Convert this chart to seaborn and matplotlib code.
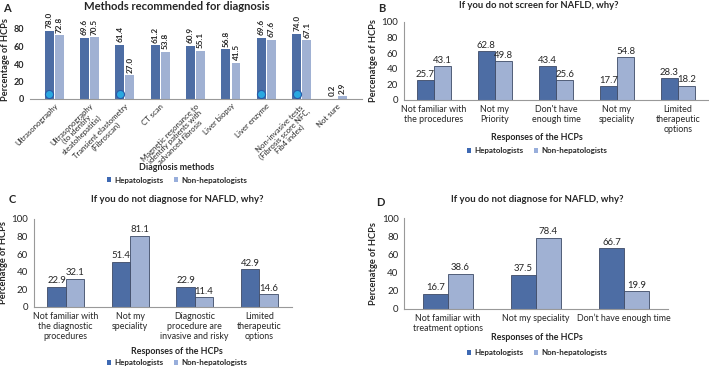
import matplotlib
matplotlib.use("Agg")
import matplotlib.pyplot as plt
import seaborn as sns
import pandas as pd
from matplotlib.patches import Patch

# Panel A: methods recommended for diagnosis
methods = ["Ultrasonography", "Ultrasonography\n(to identify\nsteatohepatitis)",
           "Transient elastometry\n(Fibroscan)", "CT scan",
           "Magnetic resonance to\nidentify patients with\nadvanced fibrosis",
           "Liver biopsy", "Liver enzyme",
           "Non-invasive tests\n(Fibrosis score NFC,\nFib4 index)", "Not sure"]
methods_hep = [78.0, 69.6, 61.4, 61.2, 60.9, 56.8, 69.6, 74.0, 0.2]
methods_nonhep = [72.8, 70.5, 27.0, 53.8, 55.1, 41.5, 67.6, 67.1, 2.9]
methods_marked = [True, False, True, False, False, False, True, True, False]

# Panel B: reasons for not screening
screen_reasons = ["Not familiar with\nthe procedures", "Not my\nPriority",
                  "Don't have\nenough time", "Not my\nspeciality",
                  "Limited\ntherapeutic\noptions"]
screen_hep = [25.7, 62.8, 43.4, 17.7, 28.3]
screen_nonhep = [43.1, 49.8, 25.6, 54.8, 18.2]

# Panel C: reasons for not diagnosing
diag_reasons = ["Not familiar with\nthe diagnostic\nprocedures", "Not my\nspeciality",
                "Diagnostic\nprocedure are\ninvasive and risky",
                "Limited\ntherapeutic\noptions"]
diag_hep = [22.9, 51.4, 22.9, 42.9]
diag_nonhep = [32.1, 81.1, 11.4, 14.6]

# Panel D: reasons for not diagnosing (second group)
diag2_reasons = ["Not familiar with\ntreatment options", "Not my speciality",
                 "Don\u2019t have enough time"]
diag2_hep = [16.7, 37.5, 66.7]
diag2_nonhep = [38.6, 78.4, 19.9]

groups = ["Hepatologists", "Non-hepatologists"]
colors = ["#3e69b3", "#98aedb"]

sns.set_theme(style="white")
plt.rcParams['font.family'] = ['Lato', 'DejaVu Sans']

W, H = 709, 369


def make_df(cats, hep, nonhep):
    return pd.DataFrame({
        "cat": cats * 2,
        "group": [groups[0]] * len(cats) + [groups[1]] * len(cats),
        "value": hep + nonhep,
    })


def fig_xy(px, py):
    return px / W, 1 - py / H


def draw_panel(ax, cats, hep, nonhep, ylim, yticks, ylabel,
               rotated=False, gap=0.0, edge=True):
    df = make_df(cats, hep, nonhep)
    sns.barplot(data=df, x="cat", y="value", hue="group", palette=colors,
                width=0.57, gap=gap, ax=ax, legend=False,
                edgecolor="#3d4a66" if edge else "none",
                linewidth=0.6 if edge else 0)
    ax.set_ylim(*ylim)
    ax.set_yticks(yticks)
    ax.tick_params(axis="y", labelsize=7, length=2.5, width=0.6,
                   color="#888888", pad=1.5)
    ax.tick_params(axis="x", length=0, pad=3.5, labelsize=6.4)
    for t in ax.get_xticklabels():
        t.set_linespacing(1.15)
    for s in ["top", "right"]:
        ax.spines[s].set_visible(False)
    for s in ["left", "bottom"]:
        ax.spines[s].set_color("#999999")
        ax.spines[s].set_linewidth(0.8)
    ax.set_ylabel(ylabel, fontsize=6.7, fontweight="bold", labelpad=2.5)
    ax.set_xlabel("")
    for cont in ax.containers:
        if rotated:
            ax.bar_label(cont, fmt="%.1f", rotation=90, fontsize=5.9,
                         fontweight="bold", padding=2)
        else:
            ax.bar_label(cont, fmt="%.1f", fontsize=6.9, padding=1)


def add_text(text, px, py, size, weight="bold"):
    x, y = fig_xy(px, py)
    fig.text(x, y, text, ha="center", va="center", fontsize=size, fontweight=weight)


def add_legend(ax, px, py):
    handles = [Patch(facecolor=c, edgecolor="none") for c in colors]
    ax.legend(handles, groups, loc="center", bbox_to_anchor=fig_xy(px, py),
              bbox_transform=fig.transFigure, ncol=2, frameon=False,
              handlelength=0.55, handleheight=0.55, handletextpad=0.4,
              columnspacing=1.3, borderaxespad=0, borderpad=0,
              prop={"weight": "bold", "size": 5.8})


fig = plt.figure(figsize=(W / 100, H / 100), dpi=100)

# A
axA = fig.add_axes([29.6 / W, 1 - 99 / H, 332 / W, 78.75 / H])
draw_panel(axA, methods, methods_hep, methods_nonhep, (0, 90), [0, 20, 40, 60, 80],
           "Percentage of HCPs", rotated=True, gap=0.12, edge=False)
axA.spines["left"].set_visible(False)
for t in axA.get_yticklabels():
    t.set_fontweight("bold")
    t.set_fontsize(6.5)
axA.set_xticks(range(len(methods)))
axA.set_xticklabels(methods, rotation=45, ha="right", rotation_mode="anchor",
                    fontsize=5.6, linespacing=0.95, multialignment="center")
axA.tick_params(axis="x", pad=2.5)
hep_bars = axA.containers[0]
for bar, flag in zip(hep_bars, methods_marked):
    if flag:
        axA.scatter(bar.get_x() + bar.get_width() / 2, 5.5, s=34,
                    color="#2aa8e0", edgecolor="#2a5aa8", linewidth=0.8, zorder=5)
add_text("Methods recommended for diagnosis", 177, 6, 8.1)
add_text("Diagnosis methods", 177, 167, 6.4)
add_legend(axA, 177, 180)

# B
axB = fig.add_axes([403.5 / W, 1 - 100 / H, 305 / W, 78 / H])
draw_panel(axB, screen_reasons, screen_hep, screen_nonhep, (0, 100),
           [0, 20, 40, 60, 80, 100], "Percenatge of HCPs")
add_text("If you do not screen for NAFLD, why?", 539, 6, 6.8)
add_text("Responses of the HCPs", 537, 137, 6.4)
add_legend(axB, 537, 151)

# C
axC = fig.add_axes([33.5 / W, 1 - 307 / H, 258 / W, 88 / H])
draw_panel(axC, diag_reasons, diag_hep, diag_nonhep, (0, 100),
           [0, 20, 40, 60, 80, 100], "Percenatge of HCPs")
add_text("If you do not diagnose for NAFLD, why?", 177, 199, 6.9)
add_text("Responses of the HCPs", 177, 351, 6.4)
add_legend(axC, 177, 363)

# D
axD = fig.add_axes([404 / W, 1 - 309 / H, 264 / W, 91 / H])
draw_panel(axD, diag2_reasons, diag2_hep, diag2_nonhep, (0, 100),
           [0, 20, 40, 60, 80, 100], "Percenatge of HCPs")
add_text("If you do not diagnose for NAFLD, why?", 537, 200, 6.9)
add_text("Responses of the HCPs", 537, 338, 6.4)
add_legend(axD, 537, 353)

for label, px, py in [("A", 3, 9), ("B", 378, 9), ("C", 9, 199), ("D", 376, 202)]:
    x, y = fig_xy(px, py)
    fig.text(x, y, label, fontsize=8, fontweight="bold", ha="left", va="center")

fig.savefig("out.png", dpi=100)
